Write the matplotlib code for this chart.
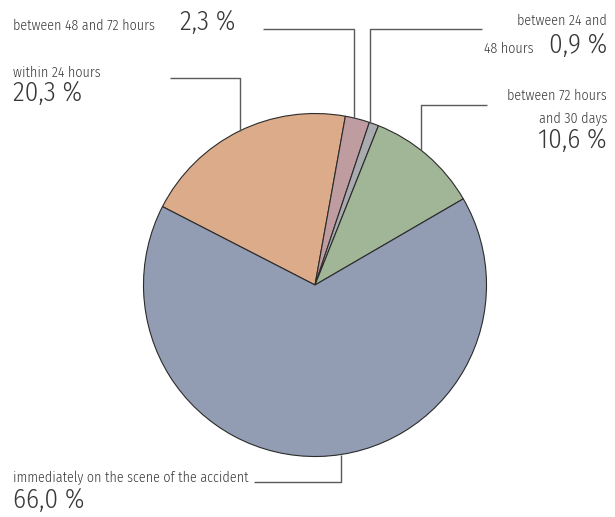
import matplotlib

matplotlib.use("Agg")
import matplotlib.pyplot as plt
import numpy as np

# --- data (clockwise order starting at the left edge of the orange slice) ---
labels = [
    "within 24 hours",
    "between 48 and 72 hours",
    "between 24 and\n48 hours",
    "between 72 hours\nand 30 days",
    "immediately on the scene of the accident",
]
shares = [20.3, 2.3, 0.9, 10.6, 66.0]
colors = ["#dbab8a", "#bf9c9f", "#a9abae", "#a1b597", "#929db3"]

W, H = 615, 517
CX, CY, R = 315, H - 285, 171.5

plt.rcParams["font.family"] = ["Fira Sans Condensed", "Roboto Condensed", "DejaVu Sans"]
plt.rcParams["font.weight"] = 300
TXT = "#383838"
LINE = "#5a5a5a"

fig = plt.figure(figsize=(W / 100, H / 100), dpi=100)
ax = fig.add_axes([0, 0, 1, 1])

ax.pie(
    shares,
    colors=colors,
    center=(CX, CY),
    radius=R,
    startangle=152.8,
    counterclock=False,
    wedgeprops=dict(edgecolor="#2b2b2b", linewidth=0.8),
    frame=True,
)
ax.set_xlim(0, W)
ax.set_ylim(0, H)
ax.set_aspect("equal")
ax.axis("off")


def pct(v):
    return f"{v:.1f}".replace(".", ",") + " %"


def edge_y(x, top=True):
    d = np.sqrt(max(R**2 - (x - CX) ** 2, 0))
    return CY + d if top else CY - d


def leader(x_vert, y_h, x_end, top=True):
    # horizontal from x_end to x_vert at y_h, then vertical to the pie edge
    yy = H - y_h
    ax.plot([x_end, x_vert, x_vert], [yy, yy, edge_y(x_vert, top)],
            color=LINE, lw=1.0, solid_capstyle="butt")


def label(x, y, s, big=False, ha="left"):
    ax.text(x, H - y, s, fontsize=19.5 if big else 10.1, color=TXT,
            ha=ha, va="baseline")


# within 24 hours
label(13, 77, labels[0])
label(13, 101, pct(shares[0]), big=True)
leader(240, 78, 170)

# between 48 and 72 hours
label(13, 30, labels[1])
label(180, 30, pct(shares[1]), big=True)
leader(354, 29, 263)

# between 24 and 48 hours
l1, l2 = labels[2].split("\n")
label(607, 25, l1, ha="right")
label(534, 53, l2, ha="right")
label(607, 53, pct(shares[2]), big=True, ha="right")
leader(370, 29, 482)

# between 72 hours and 30 days
l1, l2 = labels[3].split("\n")
label(607, 100, l1, ha="right")
label(607, 123, l2, ha="right")
label(607, 148, pct(shares[3]), big=True, ha="right")
leader(421, 105, 487)

# immediately on the scene
label(13, 482, labels[4])
label(13, 508, pct(shares[4]), big=True)
leader(341, 482, 254, top=False)

fig.savefig("out.png", dpi=100)
